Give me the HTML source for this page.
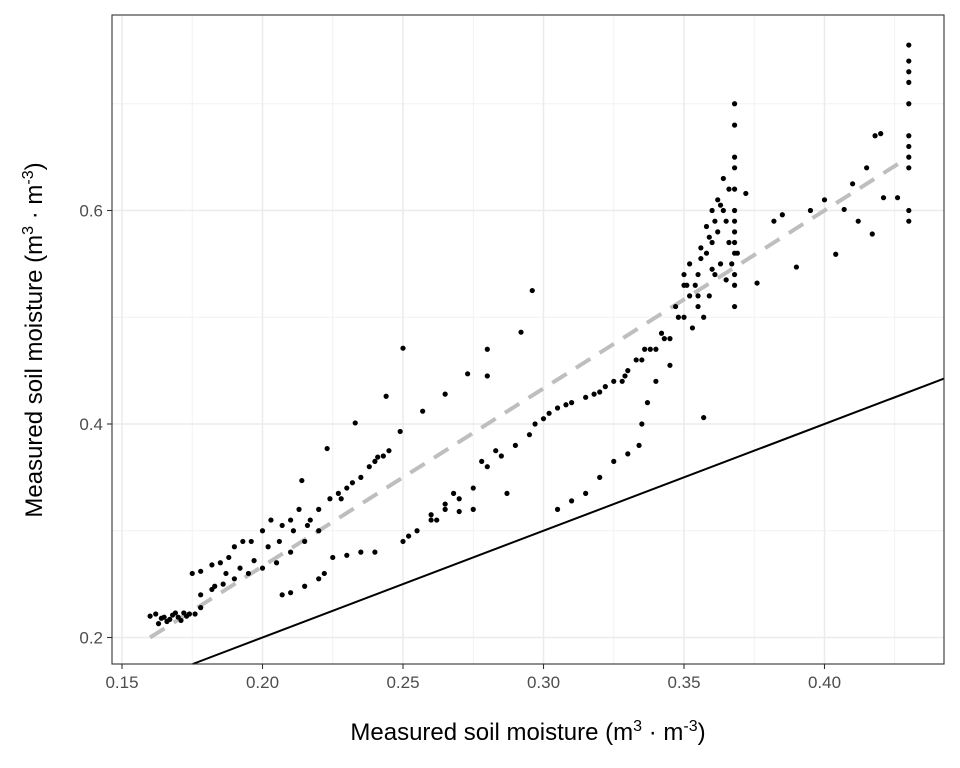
<!DOCTYPE html>
<html><head><meta charset="utf-8"><style>
body{margin:0;background:#fff;}
svg{display:block;font-family:"Liberation Sans","DejaVu Sans",sans-serif;}
</style></head><body>
<svg id="chart" width="960" height="768">
<rect x="0" y="0" width="960" height="768" fill="#fff"/>
<g id="grid"></g><g id="lines"></g><g id="pts"></g><g id="axes"></g>
<rect x="112" y="15" width="832" height="649" fill="none" stroke="#333" stroke-width="1.1"/>
<text x="528" y="740" font-size="24" text-anchor="middle" fill="#000">Measured soil moisture (m<tspan dy="-9" font-size="16">3</tspan><tspan dy="9"> · m</tspan><tspan dy="-9" font-size="16">-3</tspan><tspan dy="9">)</tspan></text>
<text transform="translate(42,340) rotate(-90)" font-size="24" text-anchor="middle" fill="#000">Measured soil moisture (m<tspan dy="-9" font-size="16">3</tspan><tspan dy="9"> · m</tspan><tspan dy="-9" font-size="16">-3</tspan><tspan dy="9">)</tspan></text>
</svg>
<script>
const xTicks=[0.15,0.20,0.25,0.30,0.35,0.40];
const xTickLabels=["0.15","0.20","0.25","0.30","0.35","0.40"];
const yTicks=[0.2,0.4,0.6];
const yTickLabels=["0.2","0.4","0.6"];
const xMinor=[0.175,0.225,0.275,0.325,0.375,0.425];
const yMinor=[0.3,0.5,0.7];
const fitLine=[[0.16,0.2],[0.43,0.65]];
const xVals=[0.16,0.162,0.164,0.166,0.168,0.17,0.172,0.174,0.163,0.167,0.171,0.176,0.178,
0.175,0.178,0.182,0.185,0.188,0.19,0.193,0.196,0.2,0.203,0.207,0.21,0.213,0.217,0.22,0.224,0.227,0.23,0.235,0.24,0.245,
0.223,0.233,0.244,0.25,0.257,0.265,0.273,0.28,0.28,0.292,0.296,0.249,0.241,0.214,
0.178,0.182,0.186,0.19,0.195,0.2,0.205,0.21,0.215,0.22,0.225,0.23,0.235,0.24,0.25,0.255,0.26,0.265,0.27,0.275,0.28,0.285,0.29,0.295,0.3,0.305,0.31,0.315,0.32,0.325,0.33,0.335,0.34,0.345,0.35,0.352,0.355,0.358,0.36,0.362,0.364,0.366,
0.207,0.21,0.215,0.22,0.222,0.26,0.265,0.27,0.275,0.287,0.305,0.31,0.315,0.32,0.325,0.33,0.334,0.335,0.337,0.34,0.345,
0.368,0.368,0.368,0.368,0.368,0.368,0.368,0.368,0.368,0.368,0.368,0.368,0.368,
0.43,0.43,0.43,0.43,0.43,0.43,0.43,0.43,0.43,0.43,0.43,
0.376,0.382,0.385,0.39,0.395,0.4,0.404,0.407,0.41,0.412,0.415,0.417,0.418,0.42,0.421,0.426,0.372,0.357,
0.35,0.352,0.354,0.356,0.358,0.36,0.362,0.364,0.355,0.359,0.363,0.361,0.357,0.353,0.347,0.343,0.338,0.333,0.328,
0.183,0.187,0.192,0.197,0.202,0.206,0.211,0.216,0.228,0.232,0.238,0.243,0.252,0.262,0.268,0.278,0.283,0.297,0.302,0.308,0.318,0.322,0.329,0.336,0.342,0.348,0.351,0.356,0.359,0.361,0.363,0.365,0.366,0.367,0.369,0.365,0.36,0.355,0.35,0.165,0.169,0.173];
const yVals=[0.22,0.222,0.218,0.215,0.221,0.219,0.223,0.222,0.213,0.217,0.216,0.222,0.228,
0.26,0.262,0.268,0.27,0.275,0.285,0.29,0.29,0.3,0.31,0.305,0.31,0.32,0.31,0.32,0.33,0.335,0.34,0.35,0.365,0.375,
0.377,0.401,0.426,0.471,0.412,0.428,0.447,0.47,0.445,0.486,0.525,0.393,0.369,0.347,
0.24,0.245,0.25,0.255,0.26,0.265,0.27,0.28,0.29,0.3,0.275,0.277,0.28,0.28,0.29,0.3,0.31,0.32,0.33,0.34,0.36,0.37,0.38,0.39,0.405,0.415,0.42,0.425,0.43,0.44,0.45,0.46,0.47,0.48,0.5,0.52,0.54,0.56,0.57,0.58,0.6,0.62,
0.24,0.242,0.248,0.255,0.26,0.315,0.325,0.318,0.32,0.335,0.32,0.328,0.335,0.35,0.365,0.372,0.38,0.4,0.42,0.44,0.455,
0.51,0.53,0.54,0.56,0.57,0.58,0.59,0.6,0.62,0.64,0.65,0.68,0.70,
0.59,0.6,0.64,0.66,0.67,0.7,0.72,0.73,0.74,0.755,0.65,
0.532,0.59,0.596,0.547,0.6,0.61,0.559,0.601,0.625,0.59,0.64,0.578,0.67,0.672,0.612,0.612,0.616,0.406,
0.54,0.55,0.53,0.565,0.585,0.6,0.61,0.63,0.51,0.52,0.55,0.54,0.5,0.49,0.51,0.48,0.47,0.46,0.44,
0.248,0.26,0.265,0.272,0.285,0.29,0.3,0.305,0.33,0.345,0.36,0.37,0.295,0.31,0.335,0.365,0.375,0.4,0.41,0.418,0.428,0.435,0.445,0.47,0.485,0.5,0.53,0.555,0.575,0.59,0.605,0.59,0.57,0.55,0.56,0.535,0.545,0.52,0.53,0.219,0.223,0.22];
const NS="http://www.w3.org/2000/svg";
const sx=v=>122+(v-0.15)*2810;
const sy=v=>424-(v-0.4)*1067.5;
function mk(tag,attrs,parent){const e=document.createElementNS(NS,tag);for(const k in attrs)e.setAttribute(k,attrs[k]);document.getElementById(parent).appendChild(e);return e;}
xMinor.forEach(v=>{const e=mk('line',{x1:sx(v),x2:sx(v),y1:15,y2:664,stroke:'#f2f2f2','stroke-width':1},'grid');

});
yMinor.forEach(v=>{if(sy(v)<15)return;const e=mk('line',{x1:112,x2:944,y1:sy(v),y2:sy(v),stroke:'#f2f2f2','stroke-width':1},'grid');

});
xTicks.forEach((v,i)=>{const e=mk('line',{x1:sx(v),x2:sx(v),y1:15,y2:664,stroke:'#ebebeb','stroke-width':1.5},'grid');


const t=mk('line',{x1:sx(v),x2:sx(v),y1:664,y2:669,stroke:'#333','stroke-width':1.1},'axes');


const l=mk('text',{x:sx(v),y:688,'font-size':17,'text-anchor':'middle',fill:'#4d4d4d'},'axes');l.textContent=xTickLabels[i];

});
yTicks.forEach((v,i)=>{const e=mk('line',{x1:112,x2:944,y1:sy(v),y2:sy(v),stroke:'#ebebeb','stroke-width':1.5},'grid');


const t=mk('line',{x1:107,x2:112,y1:sy(v),y2:sy(v),stroke:'#333','stroke-width':1.1},'axes');


const l=mk('text',{x:103,y:sy(v)+6,'font-size':17,'text-anchor':'end',fill:'#4d4d4d'},'axes');l.textContent=yTickLabels[i];

});
const x0=0.15+(112-122)/2810, yb=0.4-(664-424)/1067.5, xe=0.15+(944-122)/2810;
const ls=Math.max(x0,yb);
const one=mk('line',{x1:sx(ls),y1:sy(ls),x2:sx(xe),y2:sy(xe),stroke:'#000','stroke-width':2},'lines');


const fit=mk('line',{x1:sx(fitLine[0][0]),y1:sy(fitLine[0][1]),x2:sx(fitLine[1][0]),y2:sy(fitLine[1][1]),stroke:'#bebebe','stroke-width':4,'stroke-dasharray':'17,11'},'lines');


xVals.forEach((v,i)=>{const c=mk('circle',{cx:sx(v),cy:sy(yVals[i]),r:2.6,fill:'#000'},'pts');

});
</script>
</body></html>
